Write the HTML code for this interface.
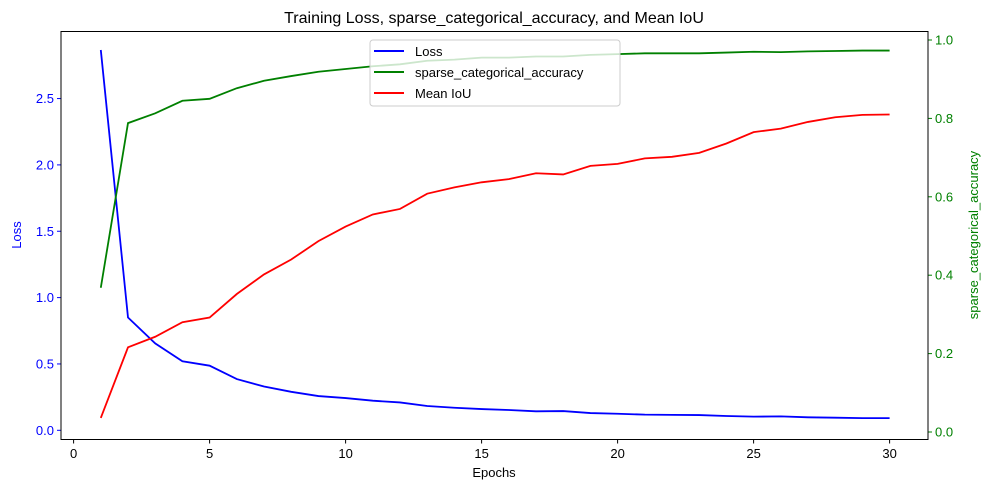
<!DOCTYPE html>
<html><head><meta charset="utf-8"><style>
body{margin:0;background:#fff}
svg text{font-family:"Liberation Sans","DejaVu Sans",sans-serif}
</style></head><body>
<svg id="chart" width="989" height="490" viewBox="0 0 989 490" xmlns="http://www.w3.org/2000/svg">
<rect width="989" height="490" fill="#fff"/>
<text x="494" y="23" text-anchor="middle" font-size="16" fill="#000">Training Loss, sparse_categorical_accuracy, and Mean IoU</text>
<g id="grid"></g>
<g id="series"></g>
<rect x="61" y="31.5" width="867" height="408" fill="none" stroke="#000" stroke-width="1"/>
<text x="494" y="477" text-anchor="middle" font-size="13">Epochs</text>
<text transform="translate(21,235) rotate(-90)" text-anchor="middle" font-size="13" fill="blue">Loss</text>
<text transform="translate(978,235) rotate(-90)" text-anchor="middle" font-size="13" fill="green">sparse_categorical_accuracy</text>
<g>
<rect x="370" y="40" width="250" height="66" rx="3" fill="#fff" fill-opacity="0.8" stroke="#ccc"/>
<line x1="374" y1="51" x2="404" y2="51" stroke="blue" stroke-width="2"/>
<text x="415" y="56" font-size="13">Loss</text>
<line x1="374" y1="72" x2="404" y2="72" stroke="green" stroke-width="2"/>
<text x="415" y="77" font-size="13">sparse_categorical_accuracy</text>
<line x1="374" y1="93" x2="404" y2="93" stroke="red" stroke-width="2"/>
<text x="415" y="98" font-size="13">Mean IoU</text>
</g>
</svg>
<script>
const epochs=[1,2,3,4,5,6,7,8,9,10,11,12,13,14,15,16,17,18,19,20,21,22,23,24,25,26,27,28,29,30];
const lossValues=[2.866,0.85,0.655,0.52,0.487,0.386,0.33,0.29,0.258,0.243,0.223,0.21,0.183,0.17,0.16,0.153,0.143,0.145,0.13,0.125,0.118,0.116,0.115,0.108,0.103,0.105,0.098,0.095,0.092,0.092];
const accValues=[0.368,0.788,0.813,0.845,0.85,0.877,0.896,0.908,0.919,0.926,0.933,0.938,0.947,0.95,0.955,0.955,0.958,0.958,0.962,0.964,0.966,0.966,0.966,0.968,0.970,0.969,0.971,0.972,0.973,0.973];
const iouValues=[0.036,0.216,0.243,0.28,0.292,0.352,0.402,0.44,0.487,0.524,0.555,0.569,0.608,0.624,0.637,0.645,0.66,0.657,0.679,0.684,0.698,0.702,0.712,0.736,0.765,0.774,0.791,0.803,0.809,0.81];
const xTicks=[0,5,10,15,20,25,30];
const leftTicks=[0.0,0.5,1.0,1.5,2.0,2.5];
const rightTicks=[0.0,0.2,0.4,0.6,0.8,1.0];
const NS="http://www.w3.org/2000/svg";
const X=e=>73.6+27.2*e, YL=v=>430.3-132.7*v, YR=v=>432-392*v;
const grid=document.getElementById('grid'), ser=document.getElementById('series');
function mk(tag,attrs,parent){const el=document.createElementNS(NS,tag);for(const k in attrs)el.setAttribute(k,attrs[k]);parent.appendChild(el);return el;}
xTicks.forEach(t=>{
  mk('line',{x1:X(t),x2:X(t),y1:439.5,y2:443.5,stroke:'#000'},grid);
  const tx=mk('text',{x:X(t),y:458,'text-anchor':'middle','font-size':13},grid);
  
  
  tx.textContent=t;
});
leftTicks.forEach(t=>{
  mk('line',{x1:57,x2:61,y1:YL(t),y2:YL(t),stroke:'blue'},grid);
  const tx=mk('text',{x:54,y:YL(t)+4.5,'text-anchor':'end','font-size':13,fill:'blue'},grid);
  
  
  tx.textContent=t.toFixed(1);
});
rightTicks.forEach(t=>{
  mk('line',{x1:928,x2:932,y1:YR(t),y2:YR(t),stroke:'green'},grid);
  const tx=mk('text',{x:935,y:YR(t)+4.5,'text-anchor':'start','font-size':13,fill:'green'},grid);
  
  
  tx.textContent=t.toFixed(1);
});
function line(vals,yf,color,name){
  const p=mk('polyline',{points:vals.map((v,i)=>X(epochs[i])+','+yf(v)).join(' '),fill:'none',stroke:color,'stroke-width':1.8},ser);
  
  
}
line(lossValues,YL,'blue','loss-line');
line(accValues,YR,'green','accuracy-line');
line(iouValues,YR,'red','mean-iou-line');
</script>
</body></html>
